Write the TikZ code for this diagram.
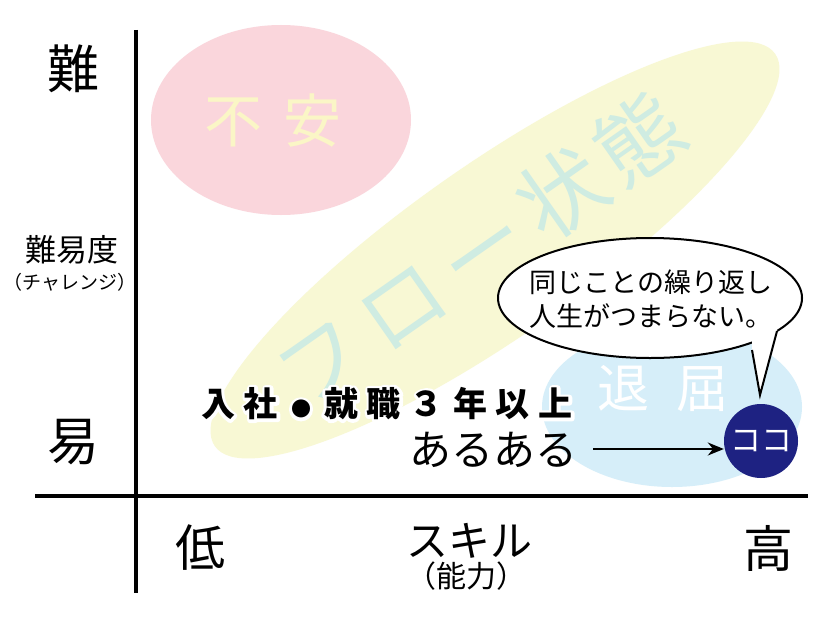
\documentclass[tikz,border=0pt]{standalone}
\usepackage{fontspec}
\usetikzlibrary{calc,arrows.meta}
\setmainfont{Noto Sans CJK JP}
\definecolor{pinkc}{HTML}{FAD6DC}
\definecolor{yellowc}{HTML}{F8F8D4}
\definecolor{bluec}{HTML}{D6EEF9}
\definecolor{tealc}{HTML}{CFECE2}
\definecolor{paleyel}{HTML}{FAF6C6}
\definecolor{navyc}{HTML}{1E2282}
\newcommand{\spc}[1]{#1\hspace{9pt}}
\newcommand{\smalldot}{\hspace{4pt}{\fontsize{20}{20}\selectfont ●}\hspace{13pt}}
\newcommand{\nyushatext}{\spc{入}\spc{社}\smalldot\spc{就}\spc{職}\spc{３}\spc{年}\spc{以}上}
\newcommand{\haloon}{\special{pdf:literal direct 1 Tr 6 w 1 j 1 1 1 RG}}
\newcommand{\halooff}{\special{pdf:literal direct 0 Tr}}
\tikzset{
  lbl/.style={inner sep=0pt, font=\fontsize{#1}{#1}\selectfont},
  boldlbl/.style={inner sep=0pt, font=\fontsize{#1}{#1}\selectfont\bfseries},
  axisline/.style={line width=4pt},
}
\begin{document}
\begin{tikzpicture}[x=1pt,y=-1pt]
\useasboundingbox[fill=white] (0,0) rectangle (826,618);
% background regions
\fill[yellowc, rotate around={35:(495,250)}] (495,250) ellipse [x radius=342, y radius=86];
\fill[pinkc] (281,120) ellipse [x radius=130, y radius=95];
\fill[bluec] (672,407) ellipse [x radius=130, y radius=80];
\node[lbl=86, text=tealc, rotate=35] (flow) at (480,250) {フ\hspace{12pt}ロ\hspace{12pt}ー\hspace{12pt}状\hspace{8pt}態};
\node[lbl=58, text=paleyel] (fuan) at (273,120) {不\hspace{22pt}安};
\node[lbl=52, text=white] (taikutsu) at (663,389) {退\hspace{28pt}屈};
% axes
\coordinate (vt) at (136,30);
\coordinate (vb) at (136,593);
\coordinate (hl) at (35,496);
\coordinate (hr) at (808,496);
\draw[axisline] (vt) -- (vb);
\draw[axisline] (hl) -- (hr);
% axis labels
\node[lbl=52] (nan) at (73,69) {難};
\node[lbl=52] (i) at (73,442) {易};
\node[lbl=31] (nanido) at (72,250) {難易度};
\node[lbl=19] (chal) at (70,282) {（チャレンジ）};
\node[lbl=50] (low) at (200,548) {低};
\node[lbl=42] (skill) at (469,541) {スキル};
\node[lbl=30] (nouryoku) at (466,576) {（能力）};
\node[lbl=50] (high) at (768,548) {高};
% speech bubble
\coordinate (tailL) at (752,350);
\coordinate (tailR) at (777,331);
\coordinate (tip) at (760,395);
\draw[line width=2pt, fill=white] (650,298) ellipse [x radius=152, y radius=60];
\fill[white] (tailL) -- (tip) -- (tailR) -- ($(tailR)+(0,-10)$) -- ($(tailL)+(0,-10)$) -- cycle;
\draw[line width=2pt, line join=miter] (tailL) -- (tip) -- (tailR);
\node[lbl=27, align=center] (bubtext) at (651,299) {同じことの繰り返し\\[7pt]人生がつまらない。};
% main text with white halo
\node[boldlbl=34] (nyushahalo) at (387,404) {\haloon\nyushatext\halooff};
\node[boldlbl=34] (nyusha) at (387,404) {\nyushatext};
\node[lbl=42] (aruaru) at (493,450) {あるある};
% koko
\node[circle, fill=navyc, minimum size=74pt, inner sep=0pt, text=white, lbl=31] (koko) at (761,441) {ココ};
\coordinate (arrS) at (593,449);
\draw[line width=2pt, -{Stealth[length=16pt,width=13pt]}] (arrS) -- (koko.west |- arrS);
\end{tikzpicture}
\end{document}
